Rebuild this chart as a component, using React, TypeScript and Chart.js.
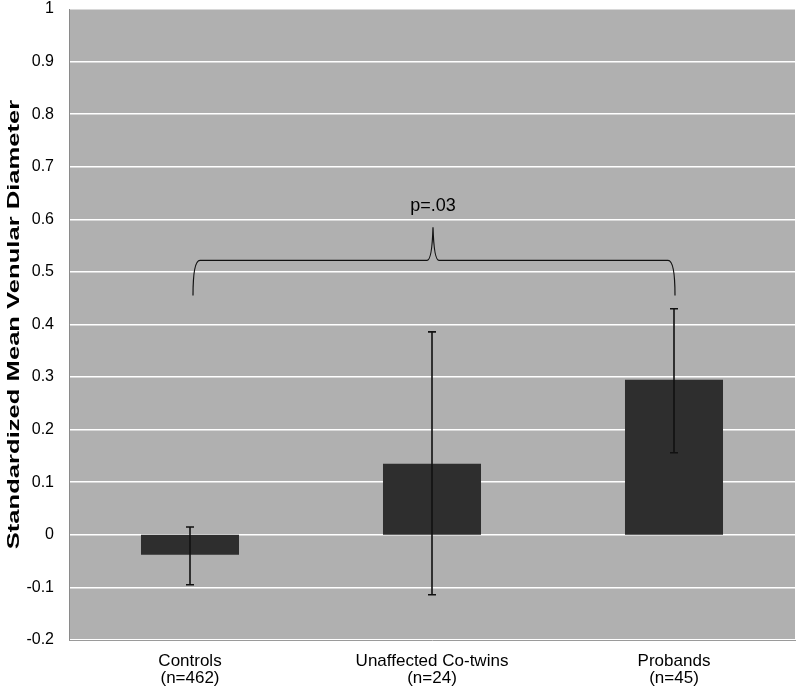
import React, { useEffect, useRef } from "react";
import { Chart, registerables } from "chart.js";

Chart.register(...registerables);

const categories: string[][] = [["Controls", "(n=462)"], ["Unaffected Co-twins", "(n=24)"], ["Probands", "(n=45)"]];
const means: number[] = [-0.038, 0.135, 0.295];
const errLow: number[] = [-0.095, -0.114, 0.156];
const errHigh: number[] = [0.015, 0.386, 0.43];
const yTicksMin = -0.2;
const yTicksMax = 1;
const yStep = 0.1;
const braceEndY = 0.455;
const braceMidY = 0.522;
const bracePeakY = 0.585;
const braceFrom = 0;
const braceTo = 2;
const pLabel = "p=.03";
const pLabelY = 0.625;
const yTitle = "Standardized Mean Venular Diameter";

const FONT = "'Liberation Sans', Arial, sans-serif";

const bgPlugin = {
  id: "plotBg",
  beforeDraw(chart: any) {
    const { ctx, chartArea } = chart;
    ctx.save();
    ctx.fillStyle = "#b0b0b0";
    ctx.fillRect(chartArea.left, chartArea.top, chartArea.right - chartArea.left, chartArea.bottom - chartArea.top);
    ctx.restore();
  },
};

const titlePlugin = {
  id: "yTitleStretched",
  afterDraw(chart: any) {
    const { ctx, chartArea } = chart;
    ctx.save();
    ctx.translate(15, (chartArea.top + chartArea.bottom) / 2);
    ctx.rotate(-Math.PI / 2);
    ctx.scale(1.6, 1);
    ctx.fillStyle = "#000";
    ctx.font = `bold 16px ${FONT}`;
    ctx.textAlign = "center";
    ctx.textBaseline = "middle";
    ctx.fillText(yTitle, 0, 0);
    ctx.restore();
  },
};

const errPlugin = {
  id: "errBars",
  afterDatasetsDraw(chart: any) {
    const { ctx } = chart;
    const x = chart.scales.x;
    const y = chart.scales.y;
    ctx.save();
    ctx.strokeStyle = "#111";
    ctx.lineWidth = 1.6;
    for (let i = 0; i < means.length; i++) {
      const cx = x.getPixelForValue(i);
      const yl = y.getPixelForValue(errLow[i]);
      const yh = y.getPixelForValue(errHigh[i]);
      ctx.beginPath();
      ctx.moveTo(cx, yl);
      ctx.lineTo(cx, yh);
      ctx.moveTo(cx - 4, yl);
      ctx.lineTo(cx + 4, yl);
      ctx.moveTo(cx - 4, yh);
      ctx.lineTo(cx + 4, yh);
      ctx.stroke();
    }
    // brace
    const x0 = x.getPixelForValue(braceFrom) + 3;
    const x1 = x.getPixelForValue(braceTo) + 1;
    const xm = (x.getPixelForValue(braceFrom) + x.getPixelForValue(braceTo)) / 2 + 1;
    const ye = y.getPixelForValue(braceEndY);
    const ymid = y.getPixelForValue(braceMidY);
    const yp = y.getPixelForValue(bracePeakY);
    ctx.lineWidth = 1.2;
    ctx.beginPath();
    ctx.moveTo(x0, ye);
    ctx.quadraticCurveTo(x0, ymid, x0 + 7, ymid);
    ctx.lineTo(xm - 6, ymid);
    ctx.quadraticCurveTo(xm - 1, ymid, xm, yp);
    ctx.quadraticCurveTo(xm + 1, ymid, xm + 6, ymid);
    ctx.lineTo(x1 - 7, ymid);
    ctx.quadraticCurveTo(x1, ymid, x1, ye);
    ctx.stroke();
    ctx.fillStyle = "#000";
    ctx.font = `18px ${FONT}`;
    ctx.textAlign = "center";
    ctx.textBaseline = "middle";
    ctx.fillText(pLabel, xm, y.getPixelForValue(pLabelY));
    ctx.restore();
  },
};

export default function App() {
  const ref = useRef<HTMLCanvasElement | null>(null);
  useEffect(() => {
    document.body.style.margin = "0";
    const chart = new Chart(ref.current as HTMLCanvasElement, {
      type: "bar",
      data: {
        labels: categories,
        datasets: [
          {
            data: means,
            backgroundColor: "#2e2e2e",
            borderWidth: 0,
            categoryPercentage: 1,
            barPercentage: 0.405,
          },
        ],
      },
      options: {
        animation: false,
        responsive: false,
        maintainAspectRatio: false,
        layout: { padding: { top: 9, right: 5, left: 0, bottom: 0 } },
        plugins: { legend: { display: false }, tooltip: { enabled: false } },
        scales: {
          x: {
            grid: { display: false, drawTicks: false },
            border: { color: "#9a9a9a" },
            ticks: { color: "#000", font: { family: FONT, size: 17, lineHeight: 1.05 }, padding: 12, maxRotation: 0, autoSkip: false },
            afterFit(scale: any) {
              scale.height = 53;
              scale.paddingLeft = 0;
              scale.paddingRight = 0;
            },
          },
          y: {
            min: yTicksMin,
            max: yTicksMax,
            grid: { color: "#ffffff", lineWidth: 1.6, drawTicks: false },
            border: { color: "#8a8a8a", width: 1 },
            ticks: {
              stepSize: yStep,
              color: "#000",
              font: { family: FONT, size: 16 },
              padding: 15,
              callback: (v: any) => {
                const n = Math.round(Number(v) * 10) / 10;
                return n.toString();
              },
            },
            title: { display: false },
            afterFit(scale: any) {
              scale.width = 69;
              scale.paddingTop = 0;
              scale.paddingBottom = 0;
            },
          },
        },
      },
      plugins: [bgPlugin, errPlugin, titlePlugin],
    } as any);
    return () => chart.destroy();
  }, []);
  return (
    <div style={{ position: "absolute", left: 0, top: 0, width: 800, height: 693 }}>
      <canvas ref={ref} width={800} height={693} style={{ width: 800, height: 693 }} />
    </div>
  );
}
